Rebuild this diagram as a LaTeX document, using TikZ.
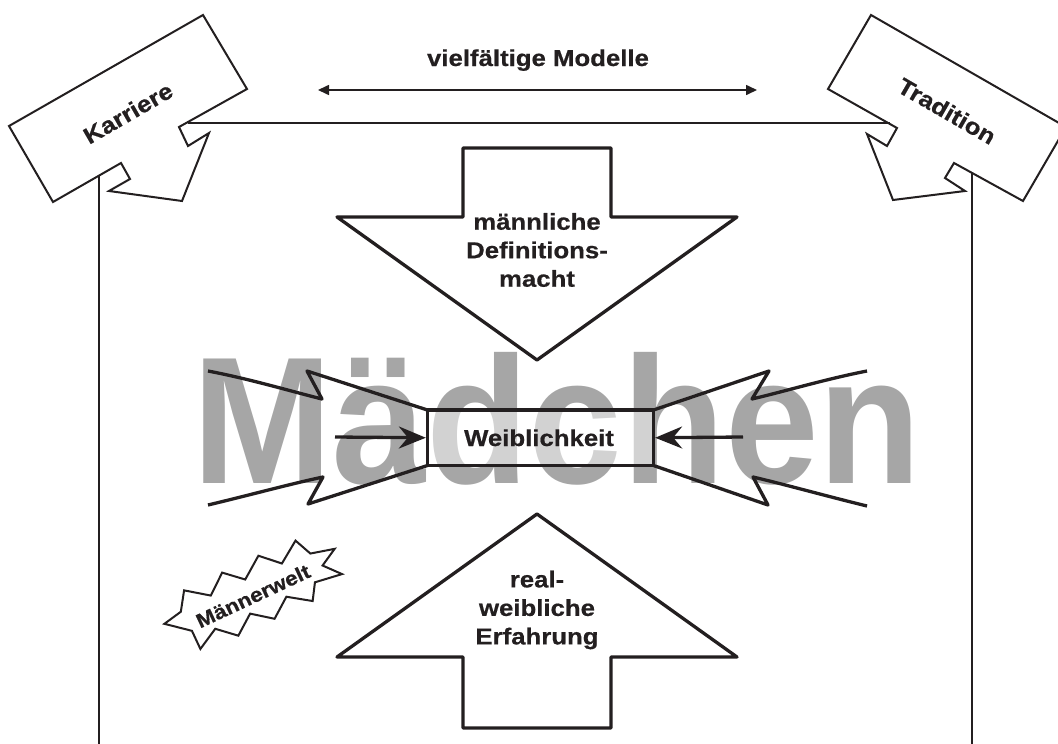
\documentclass[tikz,border=0pt]{standalone}
\usepackage{fontspec}
\setmainfont{Liberation Sans}
\newfontfamily\labelfont[FakeStretch=1.12,FakeBold=0.6]{Liberation Sans}
\newfontfamily\titlefont[FakeStretch=0.93]{Liberation Sans}
\usetikzlibrary{arrows.meta}
\definecolor{ink}{RGB}{35,31,32}
\definecolor{wordgray}{RGB}{166,166,166}
\tikzset{
  thinline/.style={draw=ink, line width=1.6pt},
  boxline/.style={draw=ink, line width=2pt, line join=miter},
  heavy/.style={draw=ink, line width=3.3pt},
  lbl/.style={font=\labelfont\bfseries\fontsize{23}{28.5}\selectfont, text=ink, align=center, inner sep=0pt},
  small lbl/.style={font=\labelfont\bfseries\fontsize{20}{24}\selectfont, text=ink, inner sep=0pt},
}
\begin{document}
\begin{tikzpicture}[x=1pt, y=-1pt, line join=round]
\useasboundingbox (0,0) rectangle (1058,744);

% large background word
\node[font=\titlefont\bfseries\fontsize{181}{181}\selectfont, text=wordgray,
      anchor=base west, inner sep=0pt] (word) at (192,483) {Mädchen};

% the two side boxes with their bent arrow tips
\draw[boxline, fill=white] (9,126) -- (203,15) -- (247,89) -- (179,127) -- (188,146)
  -- (209,133) -- (182,201) -- (109,191) -- (130,179) -- (121,163) -- (53,202) -- cycle;
\node[lbl, rotate=30] (karriere) at (128,113) {Karriere};
\draw[boxline, fill=white] (871,15) -- (1066,127) -- (1023,201) -- (954,163) -- (945,178)
  -- (965,191) -- (893,200) -- (867,134) -- (887,146) -- (897,128) -- (828,89) -- cycle;
\node[lbl, rotate=-30] (tradition) at (947,111) {Tradition};

% frame lines leaving the side boxes
\coordinate (kar-h) at (188,123);
\coordinate (tra-h) at (890,123);
\coordinate (kar-v) at (99,175);
\coordinate (kar-end) at (99,746);
\coordinate (tra-v) at (972,172);
\coordinate (tra-end) at (972,746);
\draw[thinline] (kar-h) -- (tra-h);
\draw[thinline] (kar-v) -- (kar-end);
\draw[thinline] (tra-v) -- (tra-end);

% top label with its double arrow
\node[lbl, anchor=base] (modelle) at (538,66) {vielfältige Modelle};
\coordinate (vm-l) at (318,90);
\coordinate (vm-r) at (757,90);
\draw[thinline, {Triangle[length=11pt,width=10pt]}-{Triangle[length=11pt,width=10pt]}] (vm-l) -- (vm-r);

% downward block arrow
\draw[heavy] (463,148) -- (611,148) -- (611,217) -- (737,217) -- (537,360)
  -- (337,217) -- (463,217) -- cycle;
\node[lbl] (definition) at (537,250) {männliche\\Definitions-\\macht};

% upward block arrow
\draw[heavy] (537,514) -- (737,657) -- (611,657) -- (611,728) -- (463,728)
  -- (463,657) -- (337,657) -- cycle;
\node[lbl] (erfahrung) at (537,610) {real-\\weibliche\\Erfahrung};

% funnel lines pressing on the central box
\draw[heavy] (208,371) .. controls (250,379) and (290,391) .. (322,399) -- (307,371) -- (427.5,410);
\draw[heavy] (208,505) .. controls (250,495) and (290,484) .. (323,477) -- (308,504) -- (427.5,465.5);
\draw[heavy] (653.5,410) -- (769,371) -- (752,399) .. controls (786,391) and (826,379) .. (867,371);
\draw[heavy] (653.5,465.5) -- (768,505) -- (753,477) .. controls (787,485) and (826,496) .. (867,506);

% central box
\node[heavy, line join=miter, fill=white, fill opacity=0.5, text opacity=1,
      minimum width=226pt, minimum height=55.5pt, inner sep=0pt] (weib) at (540.5,437.75) {};
\node[lbl, anchor=base] (weibtext) at (539,446) {Weiblichkeit};
\coordinate (push-l) at (335,437);
\coordinate (push-r) at (743,437);
\draw[heavy, -{Stealth[length=27pt,width=22pt,inset=9pt]}] (push-l) -- (weib.west);
\draw[heavy, -{Stealth[length=27pt,width=22pt,inset=9pt]}] (push-r) -- (weib.east);

% jagged burst, drawn along its own tilted axis
\begin{scope}[shift={(252,594)}, rotate=25]
\draw[boxline, line join=miter, fill=white] (-92,-10) -- (-72,-14) -- (-60,-32)
  -- (-38,-16) -- (-18,-32) -- (0,-16) -- (22,-32) -- (40,-15) -- (62,-30)
  -- (70,-12) -- (94,-6) -- (76,4) -- (90,20) -- (62,16) -- (52,32) -- (30,17)
  -- (10,32) -- (-10,17) -- (-30,32) -- (-48,16) -- (-70,28) -- (-70,8) -- cycle;
\end{scope}
\node[small lbl, rotate=25] (maennerwelt) at (253,596) {Männerwelt};
\end{tikzpicture}
\end{document}
